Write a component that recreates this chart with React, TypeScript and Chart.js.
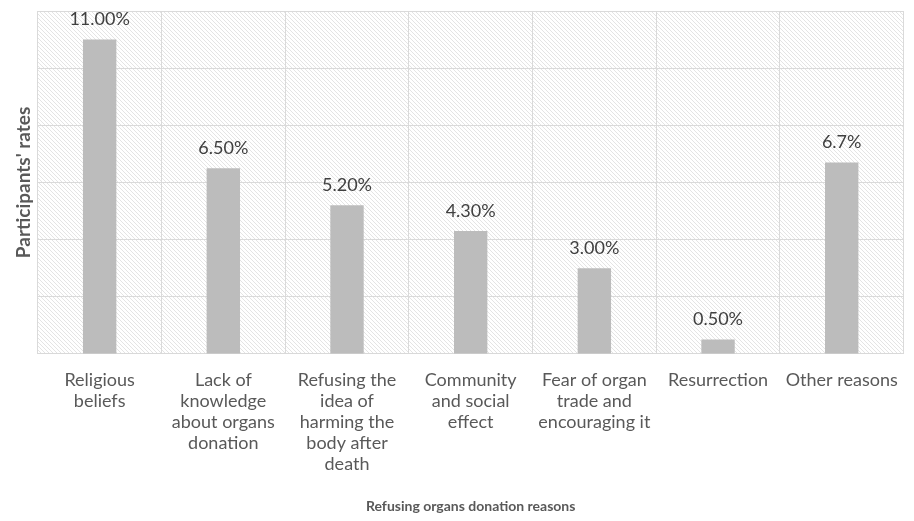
import React, { useEffect, useRef } from "react";
import { Chart, registerables } from "chart.js";

Chart.register(...registerables);

const categories: string[][] = [
  ["Religious", "beliefs"],
  ["Lack of", "knowledge", "about organs", "donation"],
  ["Refusing the", "idea of", "harming the", "body after", "death"],
  ["Community", "and social", "effect"],
  ["Fear of organ", "trade and", "encouraging it"],
  ["Resurrection"],
  ["Other reasons"],
];
const rates: number[] = [11.0, 6.5, 5.2, 4.3, 3.0, 0.5, 6.7];
const rateLabels: string[] = ["11.00%", "6.50%", "5.20%", "4.30%", "3.00%", "0.50%", "6.7%"];

const FONT = "Lato, 'Open Sans', sans-serif";

function makeHatch(): CanvasPattern | string {
  const size = 4;
  const c = document.createElement("canvas");
  c.width = size;
  c.height = size;
  const g = c.getContext("2d");
  if (!g) return "#fff";
  g.fillStyle = "#ffffff";
  g.fillRect(0, 0, size, size);
  g.strokeStyle = "#e4e4e4";
  g.lineWidth = 1;
  g.beginPath();
  g.moveTo(-1, -1);
  g.lineTo(size + 1, size + 1);
  g.moveTo(-1, size - 1);
  g.lineTo(1, size + 1);
  g.moveTo(size - 1, -1);
  g.lineTo(size + 1, 1);
  g.stroke();
  const p = g.createPattern(c, "repeat");
  return p || "#fff";
}

const hatchBackground = {
  id: "hatchBackground",
  beforeDraw(chart: any) {
    const { ctx, chartArea } = chart;
    ctx.save();
    ctx.fillStyle = makeHatch();
    ctx.fillRect(chartArea.left, chartArea.top, chartArea.right - chartArea.left, chartArea.bottom - chartArea.top);
    ctx.restore();
  },
};

const valueLabels = {
  id: "valueLabels",
  afterDatasetsDraw(chart: any) {
    const { ctx } = chart;
    const meta = chart.getDatasetMeta(0);
    ctx.save();
    ctx.font = `18px ${FONT}`;
    ctx.fillStyle = "#404040";
    ctx.textAlign = "center";
    ctx.textBaseline = "middle";
    meta.data.forEach((bar: any, i: number) => {
      ctx.fillText(rateLabels[i], bar.x, bar.y - 20);
    });
    ctx.restore();
  },
};

export default function App() {
  const ref = useRef<HTMLCanvasElement>(null);

  useEffect(() => {
    document.body.style.margin = "0";
    const canvas = ref.current;
    if (!canvas) return;
    const chart = new Chart(canvas, {
      type: "bar",
      data: {
        labels: categories,
        datasets: [
          {
            data: rates,
            backgroundColor: "#bcbcbc",
            borderWidth: 0,
            barPercentage: 0.27,
            categoryPercentage: 1,
          },
        ],
      },
      options: {
        responsive: false,
        animation: false,
        layout: { padding: { top: 11, right: 4, left: 0, bottom: 6 } },
        plugins: {
          legend: { display: false },
          tooltip: { enabled: false },
        },
        scales: {
          x: {
            grid: { color: "#dadada", drawTicks: false },
            border: { color: "#d9d9d9" },
            ticks: {
              color: "#595959",
              font: { family: FONT, size: 18, lineHeight: 1.17 },
              padding: 16,
              maxRotation: 0,
              autoSkip: false,
            },
            title: {
              display: true,
              text: "Refusing organs donation reasons",
              color: "#595959",
              font: { family: FONT, size: 14, weight: "bold" },
              padding: { top: 7, bottom: 0 },
            },
          },
          y: {
            min: 0,
            max: 12,
            grid: { color: "#dadada", drawTicks: false },
            border: { display: false },
            ticks: { display: false, stepSize: 2 },
            title: {
              display: true,
              text: "Participants' rates",
              color: "#595959",
              font: { family: FONT, size: 19, weight: "bold", lineHeight: 1.2 },
              padding: { top: 12, bottom: 3 },
            },
          },
        },
      },
      plugins: [hatchBackground, valueLabels],
    });
    return () => chart.destroy();
  }, []);

  return (
    <div style={{ width: 914, height: 521 }}>
      <canvas ref={ref} width={914} height={521} />
    </div>
  );
}
